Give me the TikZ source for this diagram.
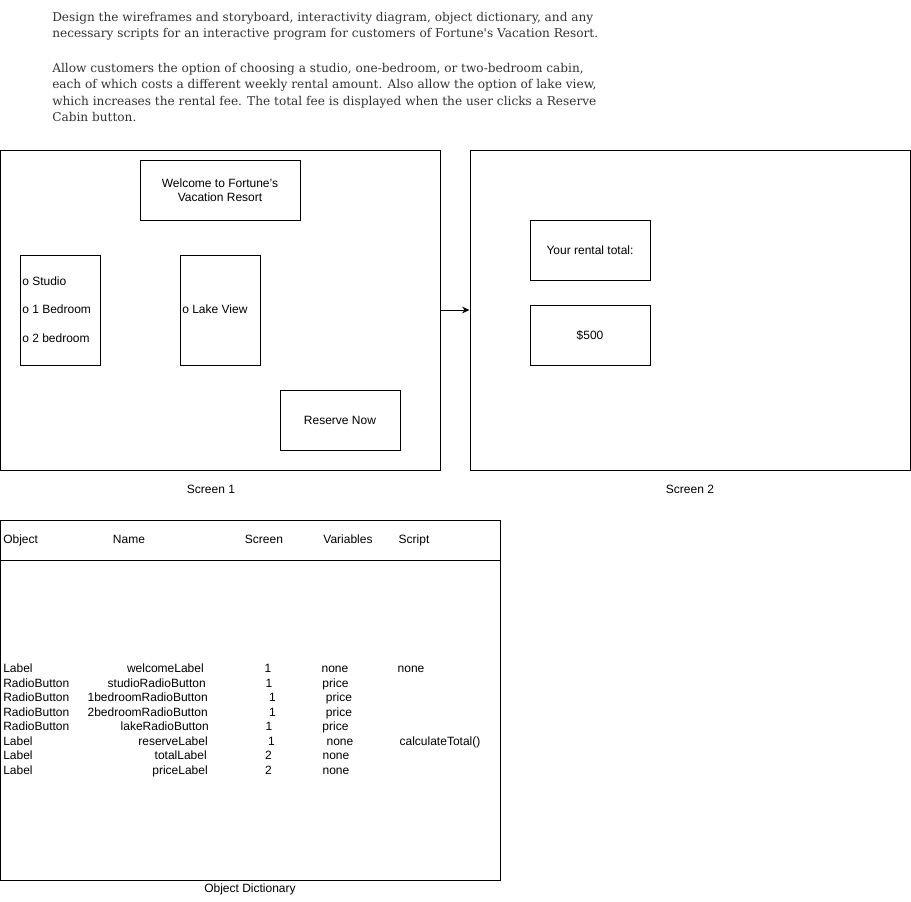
\documentclass[tikz,border=0pt]{standalone}
\usepackage{fontspec}
\setmainfont{Liberation Sans}
\newfontfamily\serifpara{DejaVu Serif}
\usetikzlibrary{arrows.meta}
\definecolor{paratext}{HTML}{333333}
\tikzset{
  box/.style={draw=black, line width=0.75pt, inner sep=0pt, align=center, font=\fontsize{9pt}{10.5pt}\selectfont},
  lbl/.style={inner sep=0pt, font=\fontsize{9pt}{10.5pt}\selectfont},
  para/.style={inner sep=0pt, anchor=base west, text=paratext, font=\serifpara\fontsize{9.1pt}{12pt}\selectfont},
  link/.style={line width=0.75pt, -{Stealth[length=5.5pt, width=5pt]}}
}
\begin{document}
\begin{tikzpicture}[x=0.75pt, y=-0.75pt]
\useasboundingbox (0,0) rectangle (911,901);
% paragraph
\node[para] (p1) at (52,21) {Design the wireframes and storyboard, interactivity diagram, object dictionary, and any};
\node[para] (p2) at (52,37.5) {necessary scripts for an interactive program for customers of Fortune's Vacation Resort.};
\node[para] (p3) at (52,72) {Allow customers the option of choosing a studio, one-bedroom, or two-bedroom cabin,};
\node[para] (p4) at (52,88.5) {each of which costs a different weekly rental amount. Also allow the option of lake view,};
\node[para] (p5) at (52,105) {which increases the rental fee. The total fee is displayed when the user clicks a Reserve};
\node[para] (p6) at (52,121.5) {Cabin button.};
% screen 1
\node[box, minimum width=330pt, minimum height=240pt] (screen1) at (220,310) {};
\node[box, minimum width=120pt, minimum height=45pt] (welcome) at (220,190) {Welcome to Fortune's\\Vacation Resort};
\node[box, minimum width=60pt, minimum height=82.5pt] (radio) at (60,310) {};
\node[box, minimum width=60pt, minimum height=82.5pt] (lake) at (220,310) {};
\node[box, minimum width=90pt, minimum height=45pt] (reserve) at (340,420) {Reserve Now};
\node[lbl, anchor=base west] (studio) at (22,285.5) {o Studio};
\node[lbl, anchor=base west] (onebed) at (22,313.5) {o 1 Bedroom};
\node[lbl, anchor=base west] (twobed) at (22,342.5) {o 2 bedroom};
\node[lbl, anchor=base west] (lakeview) at (182,313.5) {o Lake View};
\node[lbl] (s1lbl) at (211,489.5) {Screen 1};
% screen 2
\node[box, minimum width=330pt, minimum height=240pt] (screen2) at (690,310) {};
\node[box, minimum width=90pt, minimum height=45pt] (total) at (590,250) {Your rental total:};
\node[box, minimum width=90pt, minimum height=45pt] (price) at (590,335) {\$500};
\node[lbl] (s2lbl) at (690,489.5) {Screen 2};
\draw[link] (screen1.east) -- (screen2.west);
% object dictionary
\node[box, minimum width=375pt, minimum height=270pt] (table) at (250,700) {};
\coordinate (hl) at (0,560);
\coordinate (hr) at (500,560);
\draw[line width=0.75pt] (hl) -- (hr);
\node[lbl] (odlbl) at (250,889.5) {Object Dictionary};
\node[lbl, anchor=base west] (hObj) at (3,543.5) {Object};
\node[lbl, anchor=base] (hName) at (129,543.5) {Name};
\node[lbl, anchor=base] (hScreen) at (264,543.5) {Screen};
\node[lbl, anchor=base] (hVar) at (348,543.5) {Variables};
\node[lbl, anchor=base] (hScr) at (414,543.5) {Script};
% rows
\foreach \i/\y/\obj/\nm/\nx/\sx/\sc/\vx/\va in {
  1/672.5/Label/welcomeLabel/204/268/1/335/none,
  2/687/RadioButton/studioRadioButton/206/269/1/335.5/price,
  3/701.5/RadioButton/1bedroomRadioButton/208/272.5/1/339/price,
  4/716/RadioButton/2bedroomRadioButton/208/272.5/1/339/price,
  5/730.5/RadioButton/lakeRadioButton/209/269/1/335.5/price,
  6/745/Label/reserveLabel/208/271.5/1/340/none,
  7/759.5/Label/totalLabel/207/268.5/2/336/none,
  8/774/Label/priceLabel/208/268.5/2/336/none}{
  \node[lbl, anchor=base west] (obj\i) at (3,\y) {\obj};
  \node[lbl, anchor=base east] (nm\i) at (\nx,\y) {\nm};
  \node[lbl, anchor=base] (sc\i) at (\sx,\y) {\sc};
  \node[lbl, anchor=base] (va\i) at (\vx,\y) {\va};
}
\node[lbl, anchor=base] (scr1) at (411,672.5) {none};
\node[lbl, anchor=base] (scr6) at (440,745) {calculateTotal()};
\end{tikzpicture}
\end{document}
